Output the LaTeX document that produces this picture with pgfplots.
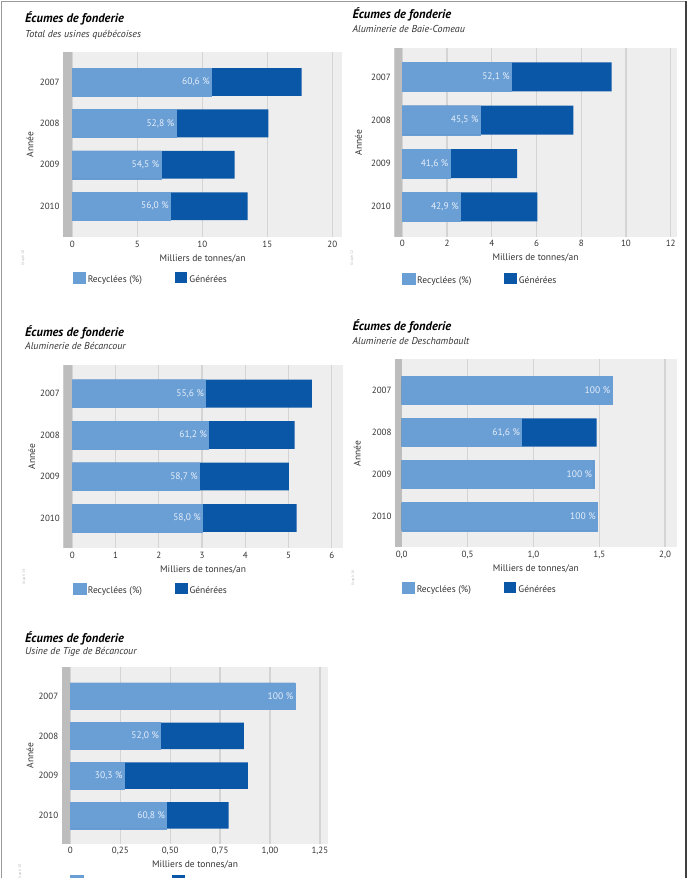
\documentclass[border=0pt]{standalone}
\usepackage{fontspec}
\setmainfont{PT Sans}
\usepackage{pgfplots}
\pgfplotsset{compat=1.18}
\definecolor{lightb}{HTML}{6A9FD6}
\definecolor{darkb}{HTML}{0A57A8}
\definecolor{bgc}{HTML}{EEEEEE}
\definecolor{gridc}{HTML}{D4D4D4}
\definecolor{bandc}{HTML}{BDBDBD}
\definecolor{txtc}{HTML}{333333}
\definecolor{lblc}{HTML}{E6EEF8}
\definecolor{framec}{HTML}{9A9A9A}
\newcommand{\tickfont}{\fontsize{9}{10.8}\selectfont}
\newcommand{\labfont}{\fontsize{9.5}{11}\selectfont}
\newcommand{\titlefont}{\fontsize{12.5}{14}\selectfont\bfseries\itshape}
\newcommand{\subfont}{\fontsize{10}{12}\selectfont\itshape}
\pgfplotsset{
  ec/.style={
    xbar, scale only axis, y dir=reverse, anchor=north west,
    axis background/.style={fill=bgc},
    axis line style={draw=none}, tick style={draw=none}, major tick length=0pt,
    xmajorgrids, major grid style={draw=gridc, line width=1.3pt},
    ytick={0,1,2,3}, yticklabels={2007,2008,2009,2010},
    bar width=0.67, bar shift=0pt,
    ticklabel style={font=\tickfont, text=txtc},
    xlabel={Milliers de tonnes/an}, ylabel={Année},
    label style={font=\labfont, text=txtc},
    xlabel style={at={(axis description cs:0.5,0)}, anchor=center, yshift=-21pt},
    reverse legend,
    legend style={draw=none, fill=none, inner sep=0pt, legend columns=2,
      font=\labfont, text=txtc, cells={anchor=west},
      /tikz/every even column/.append style={column sep=31pt},
      anchor=north west},
    legend image code/.code={\fill[##1] (0pt,-3.5pt) rectangle (12.5pt,7.5pt);},
  },
  % total generated (dark), drawn first
  gen/.style={fill=darkb, draw=none},
  % recycled part (light), drawn over the total
  rec/.style={fill=lightb, draw=lightb, line width=0.3pt, nodes near coords, point meta=explicit symbolic,
    nodes near coords align={anchor=east},
    every node near coord/.append style={font=\labfont, text=lblc, inner sep=1.5pt}},
}
\begin{document}
\begin{tikzpicture}
\path[use as bounding box, clip] (0pt,0pt) rectangle (689pt,-878pt);
\draw[framec, line width=1pt] (1pt,-878pt) -- (1pt,-1pt) -- (686pt,-1pt);
\draw[black!75, line width=2pt] (686pt,-1pt) -- (686pt,-878pt);

% ---------- Panel 1
\node[anchor=base west, inner sep=0pt, font=\titlefont] at (25pt,-23pt) {Écumes de fonderie};
\node[anchor=base west, inner sep=0pt, font=\subfont, text=txtc] at (25pt,-37pt) {Total des usines québécoises};
\node[rotate=90, font=\fontsize{4}{5}\selectfont, text=black!25] at (23pt,-258pt) {Graph 10};
\begin{axis}[ec, at={(63pt,-51.7pt)}, width=279pt, height=185.6pt,
  xmin=-0.715, xmax=20.75, ymin=-0.73, ymax=3.75,
  xtick={0,5,10,15,20}, xticklabels={0,5,10,15,20},
  ylabel style={at={(axis description cs:-0.118,0.5)}, anchor=center},
  legend style={at={(axis description cs:0.035,-0.185)}}]
\fill[bandc] (rel axis cs:0,0) rectangle ({axis cs:0,0} |- {rel axis cs:0,1});
\addplot[gen] coordinates {(17.65,0) (15.08,1) (12.49,2) (13.49,3)};
\addplot[rec] coordinates {(10.70,0) [60,6 \%] (7.96,1) [52,8 \%] (6.81,2) [54,5 \%] (7.55,3) [56,0 \%]};
\legend{Générées, Recyclées (\%)}
\end{axis}

% ---------- Panel 2
\node[anchor=base west, inner sep=0pt, font=\titlefont] at (352.3pt,-18pt) {Écumes de fonderie};
\node[anchor=base west, inner sep=0pt, font=\subfont, text=txtc] at (352.3pt,-32pt) {Aluminerie de Baie-Comeau};
\node[rotate=90, font=\fontsize{4}{5}\selectfont, text=black!25] at (352pt,-258pt) {Graph 12};
\begin{axis}[ec, at={(394.3pt,-48.3pt)}, width=282.4pt, height=188.4pt,
  xmin=-0.36, xmax=12.27, ymin=-0.66, ymax=3.69,
  xtick={0,2,4,6,8,10,12}, xticklabels={0,2,4,6,8,10,12},
  ylabel style={at={(axis description cs:-0.127,0.5)}, anchor=center},
  legend style={at={(axis description cs:0.028,-0.193)}}]
\fill[bandc] (rel axis cs:0,0) rectangle ({axis cs:0,0} |- {rel axis cs:0,1});
\addplot[gen] coordinates {(9.36,0) (7.65,1) (5.13,2) (6.04,3)};
\addplot[rec] coordinates {(4.88,0) [52,1 \%] (3.48,1) [45,5 \%] (2.13,2) [41,6 \%] (2.59,3) [42,9 \%]};
\legend{Générées, Recyclées (\%)}
\end{axis}

% ---------- Panel 3
\node[anchor=base west, inner sep=0pt, font=\titlefont] at (25pt,-336pt) {Écumes de fonderie};
\node[anchor=base west, inner sep=0pt, font=\subfont, text=txtc] at (25pt,-349pt) {Aluminerie de Bécancour};
\node[rotate=90, font=\fontsize{4}{5}\selectfont, text=black!25] at (24pt,-577pt) {Graph 14};
\begin{axis}[ec, at={(63.3pt,-365pt)}, width=279.7pt, height=183.3pt,
  xmin=-0.21, xmax=6.26, ymin=-0.69, ymax=3.73,
  xtick={0,1,2,3,4,5,6}, xticklabels={0,1,2,3,4,5,6},
  ylabel style={at={(axis description cs:-0.113,0.5)}, anchor=center},
  legend style={at={(axis description cs:0.034,-0.189)}}]
\fill[bandc] (rel axis cs:0,0) rectangle ({axis cs:0,0} |- {rel axis cs:0,1});
\addplot[gen] coordinates {(5.54,0) (5.14,1) (5.01,2) (5.19,3)};
\addplot[rec] coordinates {(3.08,0) [55,6 \%] (3.15,1) [61,2 \%] (2.94,2) [58,7 \%] (3.01,3) [58,0 \%]};
\legend{Générées, Recyclées (\%)}
\end{axis}

% ---------- Panel 4
\node[anchor=base west, inner sep=0pt, font=\titlefont] at (352.3pt,-330pt) {Écumes de fonderie};
\node[anchor=base west, inner sep=0pt, font=\subfont, text=txtc] at (352.3pt,-344pt) {Aluminerie de Deschambault};
\node[rotate=90, font=\fontsize{4}{5}\selectfont, text=black!25] at (353pt,-578pt) {Graph 16};
\begin{axis}[ec, at={(395pt,-359.3pt)}, width=281.7pt, height=188pt,
  xmin=-0.051, xmax=2.088, ymin=-0.74, ymax=3.73,
  xtick={0,0.5,1,1.5,2}, xticklabels={{0,0},{0,5},{1,0},{1,5},{2,0}},
  ylabel style={at={(axis description cs:-0.134,0.5)}, anchor=center},
  legend style={at={(axis description cs:0.024,-0.183)}}]
\fill[bandc] (rel axis cs:0,0) rectangle ({axis cs:0,0} |- {rel axis cs:0,1});
\addplot[gen] coordinates {(1.595,0) (1.48,1) (1.458,2) (1.485,3)};
\addplot[rec] coordinates {(1.595,0) [100 \%] (0.91,1) [61,6 \%] (1.458,2) [100 \%] (1.485,3) [100 \%]};
\legend{Générées, Recyclées (\%)}
\end{axis}

% ---------- Panel 5
\node[anchor=base west, inner sep=0pt, font=\titlefont] at (25pt,-642pt) {Écumes de fonderie};
\node[anchor=base west, inner sep=0pt, font=\subfont, text=txtc] at (25pt,-654pt) {Usine de Tige de Bécancour};
\node[rotate=90, font=\fontsize{4}{5}\selectfont, text=black!25] at (20pt,-872pt) {Graph 18};
\begin{axis}[ec, at={(61.7pt,-666.7pt)}, width=266.6pt, height=177.3pt,
  xmin=-0.0436, xmax=1.292, ymin=-0.74, ymax=3.72,
  xtick={0,0.25,0.5,0.75,1,1.25}, xticklabels={0,{0,25},{0,50},{0,75},{1,00},{1,25}},
  ylabel style={at={(axis description cs:-0.119,0.5)}, anchor=center},
  legend style={at={(axis description cs:0.031,-0.175)}}]
\fill[bandc] (rel axis cs:0,0) rectangle ({axis cs:0,0} |- {rel axis cs:0,1});
\addplot[gen] coordinates {(1.124,0) (0.869,1) (0.889,2) (0.793,3)};
\addplot[rec] coordinates {(1.124,0) [100 \%] (0.452,1) [52,0 \%] (0.269,2) [30,3 \%] (0.482,3) [60,8 \%]};
\legend{Générées, Recyclées (\%)}
\end{axis}
\end{tikzpicture}
\end{document}
